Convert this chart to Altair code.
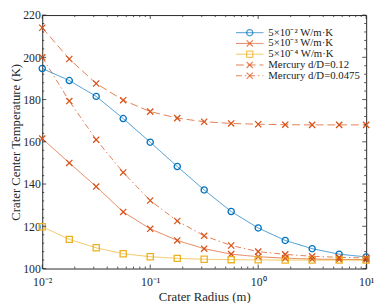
import altair as alt
import pandas as pd

# ---------------- data ----------------
radius = [0.01, 0.0178, 0.0316, 0.0562, 0.1, 0.178, 0.316, 0.562, 1.0, 1.78, 3.16, 5.62, 10.0]

series_names = ["5×10⁻² W/m·K", "5×10⁻³ W/m·K", "5×10⁻⁴ W/m·K",
                "Mercury d/D=0.12", "Mercury d/D=0.0475"]

temp_5e2 = [194.7, 189.0, 181.5, 171.0, 159.8, 148.3, 137.2, 127.0, 119.2, 113.3, 109.4, 106.8, 105.5]
temp_5e3 = [161.5, 150.0, 138.8, 126.8, 118.8, 113.3, 109.4, 106.8, 105.6, 104.9, 104.5, 104.3, 104.2]
temp_5e4 = [119.8, 113.8, 109.8, 107.0, 105.6, 104.8, 104.4, 104.2, 104.1, 104.0, 104.0, 104.0, 104.0]
temp_m012 = [214.0, 199.2, 187.6, 179.7, 174.3, 171.2, 169.5, 168.7, 168.3, 168.1, 168.0, 168.0, 168.0]
temp_m0475 = [200.0, 179.3, 161.0, 145.5, 132.2, 122.5, 115.5, 110.9, 108.0, 106.7, 105.8, 105.3, 105.0]

all_temps = [temp_5e2, temp_5e3, temp_5e4, temp_m012, temp_m0475]

x_major = [0.01, 0.1, 1, 10]
x_minor = [0.02, 0.03, 0.04, 0.05, 0.06, 0.07, 0.08, 0.09,
           0.2, 0.3, 0.4, 0.5, 0.6, 0.7, 0.8, 0.9,
           2, 3, 4, 5, 6, 7, 8, 9]
y_major = [100, 120, 140, 160, 180, 200, 220]
y_minor = [104, 108, 112, 116, 124, 128, 132, 136, 144, 148, 152, 156,
           164, 168, 172, 176, 184, 188, 192, 196, 204, 208, 212, 216]

# ---------------- styles ----------------
XPATH = "M-1,-1L1,1M-1,1L1,-1"
colors = ["#0072BD", "#D95319", "#EDB120", "#D95319", "#D95319"]
dashes = [[1, 0], [1, 0], [1, 0], [8, 4], [6, 3, 1.5, 3]]
shapes = ["circle", XPATH, "square", XPATH, XPATH]

W, H = 331, 259
FONT = "Liberation Serif"
AX = "#262626"

rows = []
for name, temps in zip(series_names, all_temps):
    for r, t in zip(radius, temps):
        rows.append({"radius": r, "temp": t, "name": name})
df = pd.DataFrame(rows)

xscale = alt.Scale(type="log", domain=[0.01, 10])
yscale = alt.Scale(domain=[100, 220], nice=False, zero=False)
cscale = alt.Scale(domain=series_names, range=colors)
dscale = alt.Scale(domain=series_names, range=dashes)
sscale = alt.Scale(domain=series_names, range=shapes)

label_expr = ("datum.value < 0.05 ? '10⁻²' : datum.value < 0.5 ? '10⁻¹' : "
              "datum.value < 5 ? '10⁰' : '10¹'")

xaxis = alt.Axis(values=x_major, labelExpr=label_expr, title="Crater Radius (m)",
                 ticks=False, domain=False, grid=False, labelPadding=8,
                 labelFontSize=12, titleFontSize=13, titleFontWeight="normal",
                 titlePadding=4, labelColor=AX, titleColor=AX, labelFlush=False)
yaxis = alt.Axis(values=y_major, title="Crater Center Temperature (K)",
                 ticks=False, domain=False, grid=False, labelPadding=2,
                 labelFontSize=12, titleFontSize=13, titleFontWeight="normal",
                 titlePadding=0, labelColor=AX, titleColor=AX)

base = alt.Chart(df)

lines = base.mark_line(strokeWidth=1, opacity=0.75).encode(
    x=alt.X("radius:Q", scale=xscale, axis=xaxis),
    y=alt.Y("temp:Q", scale=yscale, axis=yaxis),
    color=alt.Color("name:N", scale=cscale, legend=None),
    strokeDash=alt.StrokeDash("name:N", scale=dscale, legend=None),
    detail="name:N",
)

points = base.mark_point(filled=False, strokeWidth=1.3, size=40, opacity=1).encode(
    x=alt.X("radius:Q", scale=xscale, axis=xaxis),
    y=alt.Y("temp:Q", scale=yscale, axis=yaxis),
    color=alt.Color("name:N", scale=cscale, legend=None),
    shape=alt.Shape("name:N", scale=sscale, legend=None),
)

# ---------------- inward ticks ----------------
def xticks(vals, ln):
    d = alt.Chart(pd.DataFrame({"radius": vals}))
    bot = d.mark_rule(color=AX, strokeWidth=0.8).encode(
        x=alt.X("radius:Q", scale=xscale, axis=xaxis), y=alt.value(H), y2=alt.value(H - ln))
    top = d.mark_rule(color=AX, strokeWidth=0.8).encode(
        x=alt.X("radius:Q", scale=xscale, axis=xaxis), y=alt.value(0), y2=alt.value(ln))
    return [bot, top]

def yticks(vals, ln):
    d = alt.Chart(pd.DataFrame({"temp": vals}))
    left = d.mark_rule(color=AX, strokeWidth=0.8).encode(
        y=alt.Y("temp:Q", scale=yscale, axis=yaxis), x=alt.value(0), x2=alt.value(ln))
    right = d.mark_rule(color=AX, strokeWidth=0.8).encode(
        y=alt.Y("temp:Q", scale=yscale, axis=yaxis), x=alt.value(W), x2=alt.value(W - ln))
    return [left, right]

tick_layers = xticks(x_major, 4) + xticks(x_minor, 2) + yticks(y_major, 4) + yticks(y_minor, 2)

# ---------------- legend (manual) ----------------
leg_df = pd.DataFrame({"name": series_names})
ly = alt.Y("name:N", sort=series_names, axis=None,
           scale=alt.Scale(type="point", domain=series_names, range=[18, 62], padding=0))
lg = alt.Chart(leg_df)
leg_lines = lg.mark_rule(strokeWidth=1, opacity=0.75).encode(
    y=ly, x=alt.value(198), x2=alt.value(226),
    color=alt.Color("name:N", scale=cscale, legend=None),
    strokeDash=alt.StrokeDash("name:N", scale=dscale, legend=None),
)
leg_pts = lg.mark_point(filled=False, strokeWidth=1.3, size=40).encode(
    y=ly, x=alt.value(212),
    color=alt.Color("name:N", scale=cscale, legend=None),
    shape=alt.Shape("name:N", scale=sscale, legend=None),
)
leg_text = lg.mark_text(align="left", baseline="middle", fontSize=11, font=FONT, color="#1a1a1a").encode(
    y=ly, x=alt.value(231), text="name:N",
)
legend = alt.layer(leg_lines, leg_pts, leg_text)

main = alt.layer(lines, points, *tick_layers)

chart = alt.layer(main, legend).resolve_scale(y="independent").properties(
    width=W, height=H,
    autosize=alt.AutoSizeParams(type="none"),
    padding={"left": 35, "top": 4, "right": 8, "bottom": 32},
).configure(font=FONT).configure_view(stroke=AX, strokeWidth=1).configure_axis(
    labelFont=FONT, titleFont=FONT
)

chart.save("out.html", embed_options={"renderer": "svg", "actions": False})
